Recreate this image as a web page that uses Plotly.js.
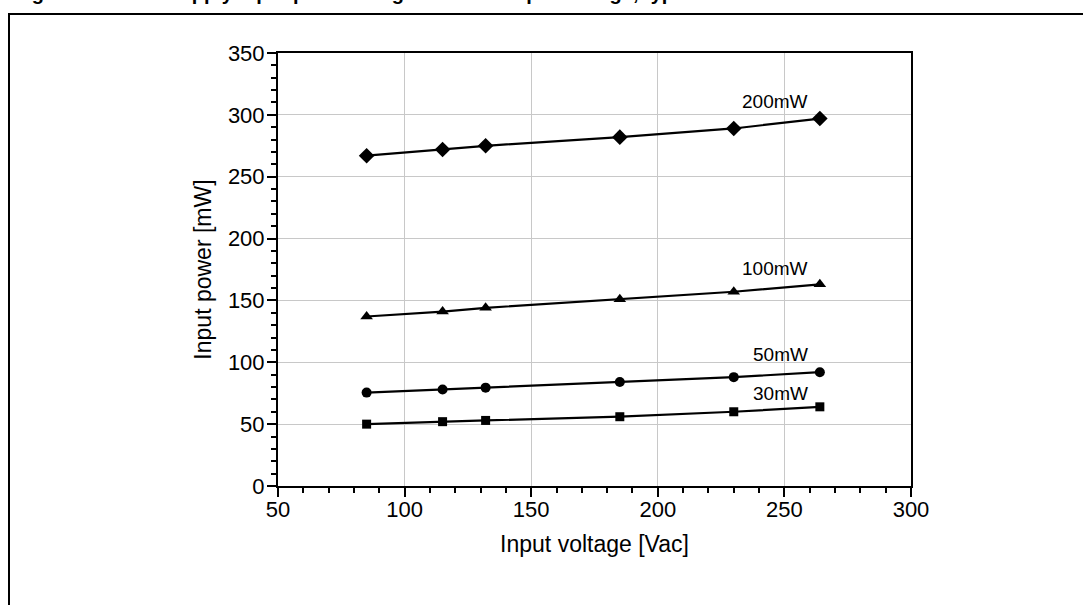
<!DOCTYPE html>
<html>
<head>
<meta charset="utf-8">
<script src="https://cdn.plot.ly/plotly-3.0.1.min.js"></script>
<style>
  html, body { margin: 0; padding: 0; background: #fff; overflow: hidden; }
  #frame { position: absolute; left: 8px; top: 13px; width: 1200px; height: 700px;
           border-left: 2px solid #000; border-top: 2px solid #000; pointer-events: none; z-index: 5; }
  #cap { position: absolute; left: 14px; top: -18px; font: bold 20px "Liberation Sans", Arial, sans-serif;
         white-space: nowrap; color: #000; }
  #chart { position: absolute; left: 0; top: 0; width: 1083px; height: 605px; }
</style>
</head>
<body>
<div id="cap">Figure 9. Power supply input power at light load vs. input voltage, typical</div>
<div id="frame"></div>
<div id="chart"></div>
<script>
// Input voltage [Vac]
const inputVoltage = [85, 115, 132, 185, 230, 264];
// Input power [mW] for each output load
const series30mW  = [50, 52, 53, 56, 60, 64];
const series50mW  = [75.5, 78, 79.5, 84, 88, 92];
const series100mW = [137, 141, 144, 151, 157, 163];
const series200mW = [267, 272, 275, 282, 289, 297];
const seriesNames = ['30mW', '50mW', '100mW', '200mW'];
const xTicks = [50, 100, 150, 200, 250, 300];
const yTicks = [0, 50, 100, 150, 200, 250, 300, 350];

const font = 'Liberation Sans, Arial, sans-serif';
const line = {color: '#000', width: 2.2};

const traces = [
  {x: inputVoltage, y: series30mW,  name: seriesNames[0], mode: 'lines+markers', line: line,
   marker: {symbol: 'square', size: 9, color: '#000'}},
  {x: inputVoltage, y: series50mW,  name: seriesNames[1], mode: 'lines+markers', line: line,
   marker: {symbol: 'circle', size: 10, color: '#000'}},
  {x: inputVoltage, y: series100mW, name: seriesNames[2], mode: 'lines+markers', line: line,
   marker: {symbol: 'triangle-up', size: 11, color: '#000'}},
  {x: inputVoltage, y: series200mW, name: seriesNames[3], mode: 'lines+markers', line: line,
   marker: {symbol: 'diamond', size: 12, color: '#000'}}
];

const labelPos = [[248.4, 75.1], [248.4, 106.6], [246.4, 176], [246.4, 310.4]];
const annotations = seriesNames.map((n, i) => ({
  x: labelPos[i][0], y: labelPos[i][1], xref: 'x', yref: 'y', text: n, showarrow: false,
  font: {family: font, size: 19, color: '#000'}, xanchor: 'center', yanchor: 'middle'
}));

const layout = {
  width: 1083, height: 605,
  margin: {l: 278, r: 172, t: 53, b: 119},
  paper_bgcolor: 'rgba(0,0,0,0)', plot_bgcolor: '#fff',
  showlegend: false,
  font: {family: font, size: 22, color: '#000'},
  xaxis: {
    range: [50, 300], tickvals: xTicks, ticks: 'outside', ticklen: 9, tickwidth: 2, tickcolor: '#000',
    showline: true, linecolor: '#000', linewidth: 2, mirror: true,
    showgrid: true, gridcolor: '#c8c8c8', gridwidth: 1, zeroline: false,
    tickfont: {family: font, size: 22}, ticklabelstandoff: -6,
    minor: {dtick: 10, ticks: 'outside', ticklen: 5, tickwidth: 2, tickcolor: '#000', showgrid: false},
    title: {text: 'Input voltage [Vac]', font: {family: font, size: 23}, standoff: 14}
  },
  yaxis: {
    range: [0, 350], tickvals: yTicks, ticks: 'outside', ticklen: 9, tickwidth: 2, tickcolor: '#000',
    showline: true, linecolor: '#000', linewidth: 2, mirror: true,
    showgrid: true, gridcolor: '#c8c8c8', gridwidth: 1, zeroline: false,
    tickfont: {family: font, size: 22}, ticklabelstandoff: -2,
    minor: {dtick: 10, ticks: 'outside', ticklen: 5, tickwidth: 2, tickcolor: '#000', showgrid: false},
    title: {text: 'Input power [mW]', font: {family: font, size: 23}, standoff: 10}
  },
  annotations: annotations
};

Plotly.newPlot('chart', traces, layout, {displayModeBar: false, staticPlot: true});
</script>
</body>
</html>
